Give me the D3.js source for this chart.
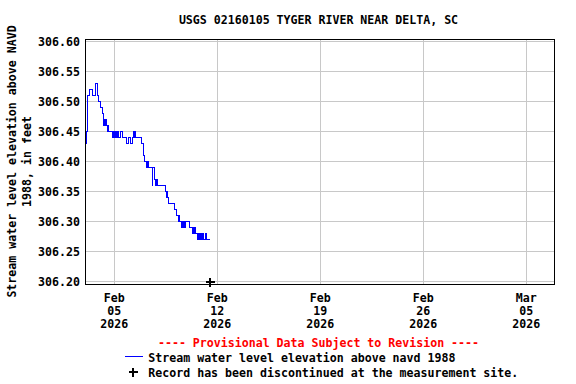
<!DOCTYPE html>
<meta charset="utf-8">
<html>
<head>
<script src="https://d3js.org/d3.v7.min.js"></script>
<style>
  body { margin: 0; background: #fff; }
  text { font-family: "DejaVu Sans Mono", monospace; font-weight: bold; font-size: 11.6px; }
</style>
</head>
<body>
<div id="chart"></div>
<script>
// hourly gage readings, first one at Feb 3 2026 01:00
const firstReading = Date.UTC(2026, 1, 3, 1);
const levels = [
  306.43, 306.44, 306.43, 306.45, 306.48, 306.51, 306.51, 306.52, 306.52, 306.52, 306.52, 306.52,
  306.52, 306.51, 306.51, 306.51, 306.51, 306.52, 306.53, 306.53, 306.52, 306.51, 306.50,
  // Feb 4
  306.50, 306.50, 306.50, 306.49, 306.49, 306.49, 306.48, 306.47, 306.46, 306.47, 306.46, 306.47,
  306.46, 306.46, 306.45, 306.46, 306.45, 306.45, 306.45, 306.45, 306.45, 306.45, 306.44, 306.45,
  // Feb 5
  306.44, 306.45, 306.44, 306.45, 306.44, 306.45, 306.44, 306.45, 306.44, 306.44, 306.44, 306.45,
  306.45, 306.45, 306.44, 306.44, 306.44, 306.44, 306.44, 306.44, 306.44, 306.43, 306.43, 306.43,
  // Feb 6
  306.44, 306.44, 306.44, 306.43, 306.43, 306.43, 306.44, 306.44, 306.44, 306.45, 306.44, 306.45,
  306.44, 306.44, 306.44, 306.44, 306.44, 306.44, 306.44, 306.44, 306.44, 306.44, 306.43, 306.43,
  // Feb 7
  306.42, 306.41, 306.41, 306.40, 306.40, 306.39, 306.40, 306.39, 306.40, 306.39, 306.39, 306.39,
  306.39, 306.39, 306.39, 306.36, 306.39, 306.39, 306.38, 306.37, 306.36, 306.37, 306.36, 306.37,
  // Feb 8
  306.36, 306.36, 306.36, 306.36, 306.36, 306.36, 306.36, 306.36, 306.36, 306.36, 306.36, 306.36,
  306.35, 306.35, 306.34, 306.35, 306.34, 306.34, 306.33, 306.33, 306.33, 306.33, 306.33, 306.33,
  // Feb 9
  306.33, 306.33, 306.33, 306.32, 306.32, 306.32, 306.31, 306.31, 306.31, 306.30, 306.31, 306.30,
  306.30, 306.30, 306.29, 306.30, 306.29, 306.30, 306.29, 306.30, 306.29, 306.30, 306.30, 306.30,
  // Feb 10
  306.30, 306.30, 306.30, 306.30, 306.29, 306.29, 306.29, 306.29, 306.28, 306.29, 306.28, 306.29,
  306.28, 306.29, 306.28, 306.28, 306.28, 306.27, 306.28, 306.27, 306.28, 306.27, 306.28, 306.27,
  // Feb 11
  306.28, 306.27, 306.28, 306.27, 306.27, 306.28, 306.27, 306.28, 306.27, 306.27, 306.27, 306.27,
  306.27, 306.27
];

// record discontinued marker
const discontinuedDate = new Date(Date.UTC(2026, 1, 11, 13));
const discontinuedLevel = 306.20;

const yTicks = [306.20, 306.25, 306.30, 306.35, 306.40, 306.45, 306.50, 306.55, 306.60];
const xTicks = [
  new Date(Date.UTC(2026, 1, 5)), new Date(Date.UTC(2026, 1, 12)), new Date(Date.UTC(2026, 1, 19)),
  new Date(Date.UTC(2026, 1, 26)), new Date(Date.UTC(2026, 2, 5))
];

const titleText = "USGS 02160105 TYGER RIVER NEAR DELTA, SC";
const yTitleLines = ["Stream water level elevation above NAVD", "1988, in feet"];
const provisionalText = "---- Provisional Data Subject to Revision ----";
const seriesLabel = "Stream water level elevation above navd 1988";
const markerLabel = "Record has been discontinued at the measurement site.";

const data = levels.map((v, i) => ({ date: new Date(firstReading + i * 3600e3), value: v }));

// plot box
const W = 576, H = 384;
const box = { left: 85, top: 39, right: 554, bottom: 284 };

const svg = d3.select("#chart").append("svg")
  .attr("width", W).attr("height", H);

const x = d3.scaleUtc()
  .domain([xTicks[0], xTicks[4]])
  .range([113.7, 525.7]);

const y = d3.scaleLinear()
  .domain([306.20, 306.60])
  .range([281.3, 41.3]);

const px = v => Math.round(v) + 0.5;

// grid
svg.append("g")
  .selectAll("line.h")
  .data(yTicks)
  .join("line")
    .attr("x1", box.left).attr("x2", box.right)
    .attr("y1", d => px(y(d))).attr("y2", d => px(y(d)))
    .attr("stroke", "#c8c8c8").attr("shape-rendering", "crispEdges");

svg.append("g")
  .selectAll("line.v")
  .data(xTicks)
  .join("line")
    .attr("x1", d => px(x(d))).attr("x2", d => px(x(d)))
    .attr("y1", box.top).attr("y2", box.bottom)
    .attr("stroke", "#c8c8c8").attr("shape-rendering", "crispEdges");

// y tick labels
svg.append("g")
  .selectAll("text")
  .data(yTicks)
  .join("text")
    .attr("x", 80)
    .attr("y", d => y(d) + 4.3)
    .attr("text-anchor", "end")
    .text(d => d.toFixed(2));

// x tick labels (3 lines each)
const fmt = [d3.utcFormat("%b"), d3.utcFormat("%d"), d3.utcFormat("%Y")];
const xl = svg.append("g")
  .selectAll("text")
  .data(xTicks)
  .join("text")
    .attr("text-anchor", "middle");
fmt.forEach((f, k) => {
  xl.append("tspan")
    .attr("x", d => x(d) + 0.5)
    .attr("y", 302 + k * 13)
    .text(d => f(d));
});

// series
svg.append("clipPath").attr("id", "clip")
  .append("rect")
    .attr("x", box.left).attr("y", box.top)
    .attr("width", box.right - box.left).attr("height", box.bottom - box.top);

svg.append("path")
  .datum(data)
  .attr("clip-path", "url(#clip)")
  .attr("fill", "none")
  .attr("stroke", "#0000ff")
  .attr("stroke-width", 1)
  .attr("shape-rendering", "crispEdges")
  .attr("d", d3.line()
    .curve(d3.curveStepAfter)
    .x(d => x(d.date))
    .y(d => px(y(d.value))));

// frame
svg.append("rect")
  .attr("x", box.left + 0.5).attr("y", box.top + 0.5)
  .attr("width", box.right - box.left).attr("height", box.bottom - box.top)
  .attr("fill", "none").attr("stroke", "#000").attr("shape-rendering", "crispEdges");

// plus marker
function plus(g, cx, cy) {
  g.append("path")
    .attr("d", `M${cx - 4.5},${cy}H${cx + 4.5}M${cx},${cy - 4.5}V${cy + 4.5}`)
    .attr("stroke", "#000").attr("stroke-width", 2).attr("fill", "none")
    .attr("shape-rendering", "crispEdges");
}
plus(svg, Math.round(x(discontinuedDate)), Math.round(y(discontinuedLevel)) + 1);

// title
svg.append("text")
  .attr("x", 318.5).attr("y", 23.5)
  .attr("text-anchor", "middle")
  .text(titleText);

// y title
yTitleLines.forEach((t, k) => {
  svg.append("text")
    .attr("transform", `translate(${16 + k * 14.5},${(box.top + box.bottom) / 2}) rotate(-90)`)
    .attr("text-anchor", "middle")
    .text(t);
});

// legend
svg.append("text")
  .attr("x", 318.5).attr("y", 346.5)
  .attr("text-anchor", "middle")
  .attr("fill", "#ff0000")
  .text(provisionalText);

svg.append("line")
  .attr("x1", 125).attr("x2", 143)
  .attr("y1", 356.5).attr("y2", 356.5)
  .attr("stroke", "#0000ff").attr("shape-rendering", "crispEdges");
svg.append("text")
  .attr("x", 148.3).attr("y", 361.5)
  .text(seriesLabel);

plus(svg, 133, 372);
svg.append("text")
  .attr("x", 148.3).attr("y", 376.5)
  .text(markerLabel);
</script>
</body>
</html>
